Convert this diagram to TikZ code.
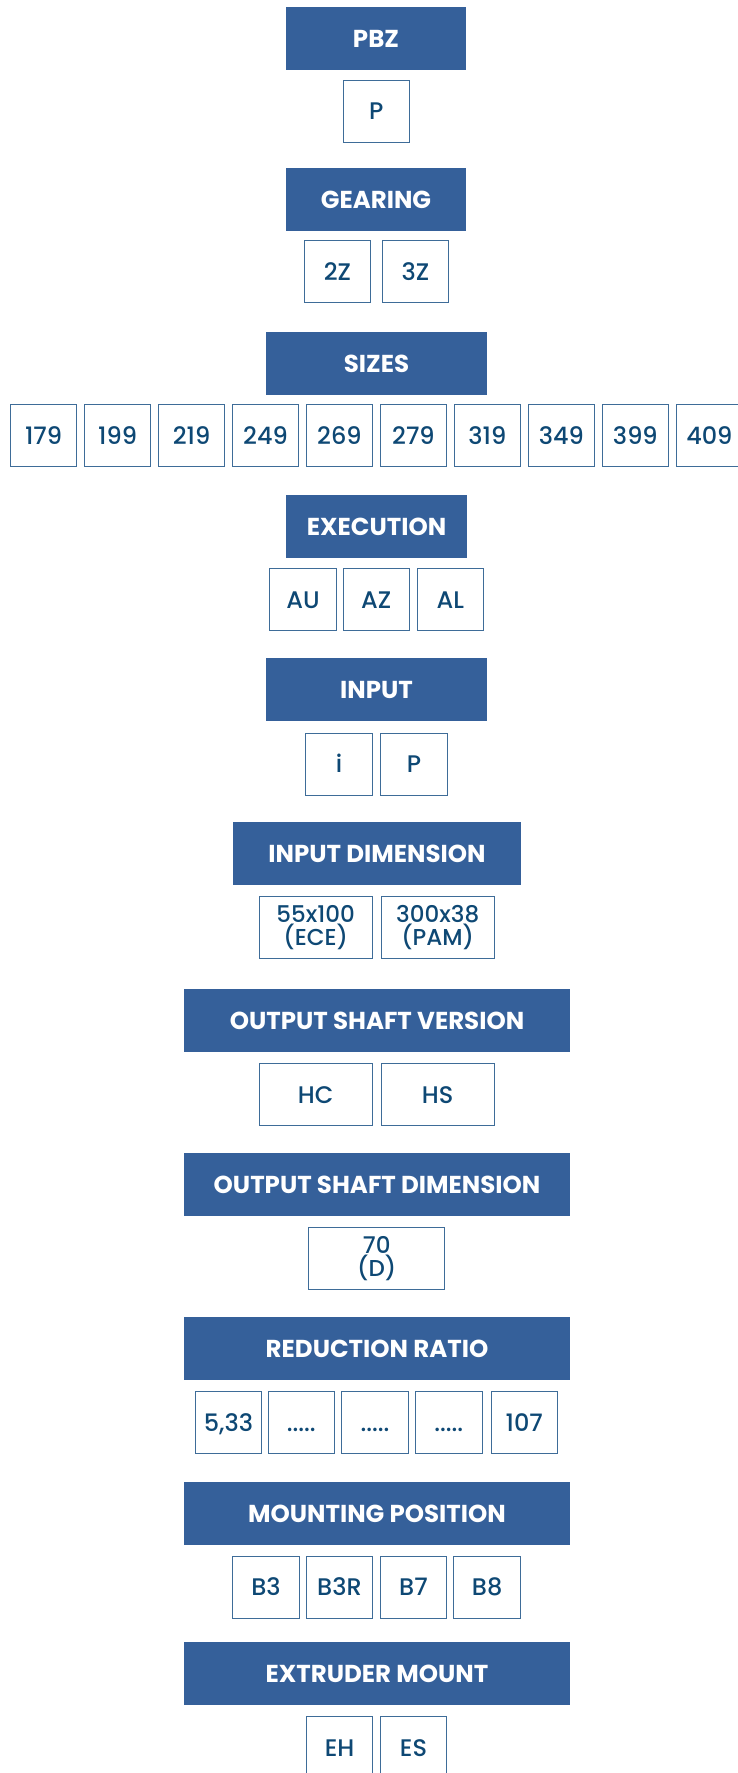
\documentclass[tikz,border=0pt]{standalone}
\usepackage{fontspec}
\setmainfont{Poppins}
\newfontfamily\optfont{Poppins Medium}
\definecolor{hdrblue}{RGB}{53,96,154}
\definecolor{optline}{RGB}{62,108,152}
\definecolor{opttext}{RGB}{14,72,116}
\begin{document}
\begin{tikzpicture}[x=1pt,y=-1pt,
  hdr/.style={fill=hdrblue, draw=none, minimum height=63pt, inner sep=0pt,
    text=white, font=\bfseries\fontsize{24.5}{24.5}\selectfont, text height=17pt, text depth=0pt},
  opt/.style={draw=optline, line width=1pt, minimum width=66.5pt, minimum height=62pt, inner sep=0pt,
    text=opttext, font=\optfont\fontsize{24}{24}\selectfont, text height=17pt, text depth=0pt},
  opttwo/.style={draw=optline, line width=1pt, minimum height=62pt, inner sep=0pt,
    text=opttext, align=center, font=\optfont\fontsize{23}{18.5}\selectfont}]
\useasboundingbox (0,0) rectangle (737,1773);
% headers
\node[hdr, minimum width=180pt] (hPBZ) at (376,38.5) {PBZ};
\node[hdr, minimum width=180pt] (hGear) at (376,199.5) {GEARING};
\node[hdr, minimum width=221pt] (hSizes) at (376.5,363.5) {SIZES};
\node[hdr, minimum width=181pt] (hExec) at (376.5,526.5) {EXECUTION};
\node[hdr, minimum width=221pt] (hInput) at (376.5,689.5) {INPUT};
\node[hdr, minimum width=288pt] (hInDim) at (377,853.5) {INPUT DIMENSION};
\node[hdr, minimum width=386pt] (hOSV) at (377,1020.5) {OUTPUT SHAFT VERSION};
\node[hdr, minimum width=386pt] (hOSD) at (377,1184.5) {OUTPUT SHAFT DIMENSION};
\node[hdr, minimum width=386pt] (hRR) at (377,1348.5) {REDUCTION RATIO};
\node[hdr, minimum width=386pt] (hMP) at (377,1513.5) {MOUNTING POSITION};
\node[hdr, minimum width=386pt] (hEM) at (377,1673.5) {EXTRUDER MOUNT};
% options
\node[opt] (oP) at (376.3,111) {P};
\node[opt] (o2Z) at (337.5,271.5) {2Z};
\node[opt] (o3Z) at (415.5,271.5) {3Z};
\foreach \v [count=\k from 0] in {179,199,219,249,269,279,319,349,399,409}
  \node[opt] (s\v) at ({43.6+73.97*\k},435.5) {\v};
\node[opt] (oAU) at (303,599.5) {AU};
\node[opt] (oAZ) at (376.3,599.5) {AZ};
\node[opt] (oAL) at (450.3,599.5) {AL};
\node[opt] (oi) at (339,764) {i};
\node[opt] (oIP) at (414,764) {P};
\node[opttwo, minimum width=113.3pt] (oECE) at (315.7,927.5) {55x100\\(ECE)};
\node[opttwo, minimum width=113.3pt] (oPAM) at (437.7,927.5) {300x38\\(PAM)};
\node[opt, minimum width=113.3pt] (oHC) at (315.7,1094.5) {HC};
\node[opt, minimum width=113.3pt] (oHS) at (437.7,1094.5) {HS};
\node[opttwo, minimum width=136pt] (oD) at (376.7,1258.7) {70\\(D)};
\node[opt] (r1) at (228.5,1422.5) {5,33};
\node[opt] (r2) at (301.3,1422.5) {.....};
\node[opt] (r3) at (375,1422.5) {.....};
\node[opt] (r4) at (448.8,1422.5) {.....};
\node[opt] (r5) at (524.3,1422.5) {107};
\node[opt] (mB3) at (266,1587.3) {B3};
\node[opt] (mB3R) at (339.5,1587.3) {B3R};
\node[opt] (mB7) at (413.5,1587.3) {B7};
\node[opt] (mB8) at (487.2,1587.3) {B8};
\node[opt] (eEH) at (339.5,1747.5) {EH};
\node[opt] (eES) at (413.5,1747.5) {ES};
\end{tikzpicture}
\end{document}
